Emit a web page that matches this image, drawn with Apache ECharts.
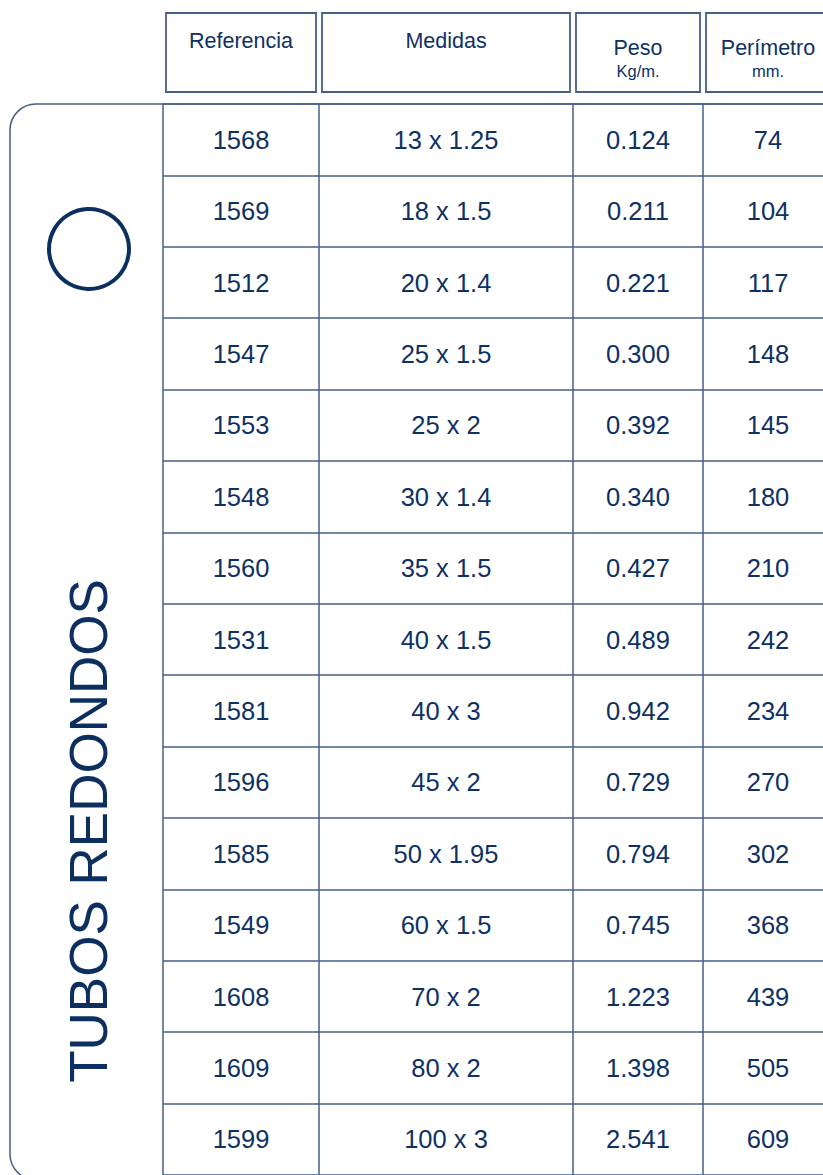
<!DOCTYPE html>
<html>
<head>
<meta charset="utf-8">
<script src="https://cdn.jsdelivr.net/npm/echarts@6/dist/echarts.min.js"></script>
<style>
html,body{margin:0;padding:0;background:#fff;}
#chart{width:823px;height:1175px;}
</style>
</head>
<body>
<div id="chart"></div>
<script>
// ---- Data ----
const title = 'TUBOS REDONDOS';
const headers = ['Referencia', 'Medidas', 'Peso', 'Perímetro'];
const units = ['', '', 'Kg/m.', 'mm.'];
const referencias = ['1568','1569','1512','1547','1553','1548','1560','1531','1581','1596','1585','1549','1608','1609','1599'];
const medidas = ['13 x 1.25','18 x 1.5','20 x 1.4','25 x 1.5','25 x 2','30 x 1.4','35 x 1.5','40 x 1.5','40 x 3','45 x 2','50 x 1.95','60 x 1.5','70 x 2','80 x 2','100 x 3'];
const peso = [0.124,0.211,0.221,0.300,0.392,0.340,0.427,0.489,0.942,0.729,0.794,0.745,1.223,1.398,2.541];
const perimetro = [74,104,117,148,145,180,210,242,234,270,302,368,439,505,609];

// ---- Layout / style ----
const FONT = '"Liberation Sans", Arial, Helvetica, sans-serif';
const TEXT = '#0e3163';
const LINE = '#465f88';
const colLeft = [163, 319, 573, 703];
const colWidth = [156, 254, 130, 120];
const labelShift = [0, 0, 0, 5];
const headBoxes = [[166,13,150,79],[322,13,248,79],[576,13,124,79],[706,13,130,79]];
const TOP = 104, ROWH = 71.6;

const columns = [
  referencias,
  medidas,
  peso.map(v => v.toFixed(3)),
  perimetro.map(v => String(v))
];

const grids = [], xAxes = [], yAxes = [], series = [];
columns.forEach((col, i) => {
  grids.push({left: colLeft[i], top: TOP, width: colWidth[i], height: ROWH * referencias.length, show: false, containLabel: false});
  xAxes.push({gridIndex: i, type: 'value', min: 0, max: 1, show: false});
  yAxes.push({
    gridIndex: i, type: 'category', data: referencias, inverse: true,
    axisLine: {show: true, lineStyle: {color: LINE, width: 1.5}},
    axisTick: {show: false}, axisLabel: {show: false},
    splitLine: {show: true, lineStyle: {color: LINE, width: 1.5}}
  });
  series.push({
    type: 'scatter', xAxisIndex: i, yAxisIndex: i,
    symbolSize: 1, itemStyle: {color: 'rgba(255,255,255,0)', opacity: 1},
    silent: true,
    data: col.map((t, j) => [0.5, referencias[j], t]),
    label: {
      show: true, position: 'inside', offset: [labelShift[i], 0],
      formatter: p => p.value[2],
      color: TEXT, fontSize: 25.5, fontFamily: FONT, opacity: 1,
      textBorderWidth: 0, textBorderColor: 'transparent'
    }
  });
});

const graphics = [
  {type: 'rect', shape: {x: 10, y: TOP, width: 900, height: 1076, r: [26, 0, 0, 26]},
   style: {fill: 'none', stroke: LINE, lineWidth: 1.5}, z: 0},
  {type: 'circle', shape: {cx: 89, cy: 249, r: 40},
   style: {fill: 'none', stroke: '#0d2f5f', lineWidth: 4}},
  {type: 'text', x: 88, y: 831, rotation: Math.PI / 2,
   style: {text: title, fill: '#0d2f5f', font: '53px ' + FONT, align: 'center', verticalAlign: 'middle'}}
];
headBoxes.forEach((b, i) => {
  graphics.push({type: 'rect', shape: {x: b[0], y: b[1], width: b[2], height: b[3]},
    style: {fill: 'none', stroke: LINE, lineWidth: 1.8}});
  const cx = b[0] + (i === 3 ? 62 : b[2] / 2);
  if (units[i]) {
    graphics.push({type: 'text', x: cx, y: 48, style: {text: headers[i], fill: TEXT, font: '21.5px ' + FONT, align: 'center', verticalAlign: 'middle'}});
    graphics.push({type: 'text', x: cx, y: 71, style: {text: units[i], fill: TEXT, font: '16.5px ' + FONT, align: 'center', verticalAlign: 'middle'}});
  } else {
    graphics.push({type: 'text', x: cx, y: 41, style: {text: headers[i], fill: TEXT, font: '21.5px ' + FONT, align: 'center', verticalAlign: 'middle'}});
  }
});

const chart = echarts.init(document.getElementById('chart'), null, {renderer: 'svg'});
chart.setOption({
  animation: false,
  backgroundColor: '#ffffff',
  grid: grids,
  xAxis: xAxes,
  yAxis: yAxes,
  series: series,
  graphic: graphics
});
</script>
</body>
</html>
